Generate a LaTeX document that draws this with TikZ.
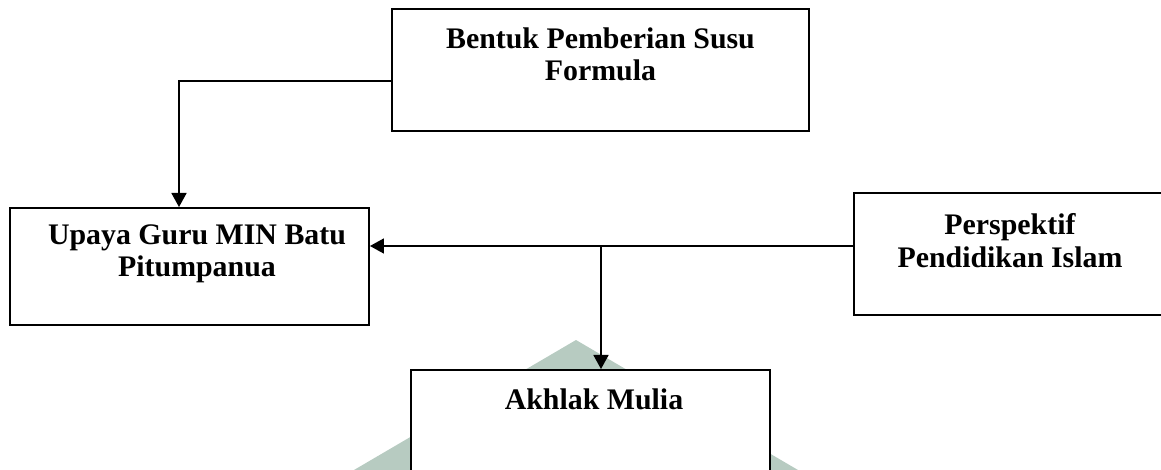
\documentclass[tikz,border=0pt]{standalone}
\usepackage{fontspec}
\setmainfont{Liberation Serif}
\usetikzlibrary{arrows.meta}

\begin{document}
\begin{tikzpicture}[x=0.02cm, y=-0.02cm,
    kotak/.style ={draw, line width=1.1pt, fill=white, inner sep=0pt},
    judul/.style ={font=\bfseries\fontsize{17}{18.7}\selectfont, align=center, inner sep=0pt, anchor=north},
    panah/.style ={line width=1.1pt, -{Triangle[length=8pt, width=8.5pt]}}]
   \useasboundingbox (0,0) rectangle (1161,470);
   % watermark
   \fill[fill={rgb,255:red,183;green,203;blue,193}] (576,340) -- (798,470) -- (354,470) -- cycle;
   % kotak
   \node[kotak, minimum width=8.34cm, minimum height=2.44cm] (bentuk) at (600.5,70) {};
   \node[kotak, minimum width=7.18cm, minimum height=2.34cm] (upaya) at (189.5,266.5) {};
   \node[kotak, minimum width=6.24cm, minimum height=2.44cm] (perspektif) at (1010,254) {};
   \node[kotak, minimum width=7.18cm, minimum height=2.6cm] (akhlak) at (590.5,435) {};
   % teks
   \node[judul] (bentuk-t) at (600.5,27) {Bentuk Pemberian Susu\\Formula};
   \node[judul] (upaya-t) at (197,224) {Upaya Guru MIN Batu\\Pitumpanua};
   \node[judul] (perspektif-t) at (1010,213) {Perspektif\\Pendidikan Islam};
   \node[judul] (akhlak-t) at (594,388) {Akhlak Mulia};
   % panah
   \coordinate (belok) at (179,81);
   \coordinate (cabang) at (601,246);
   \draw[panah] (bentuk.west |- belok) -- (belok) -- (belok |- upaya.north);
   \draw[panah] (perspektif.west |- cabang) -- (upaya.east |- cabang);
   \draw[panah] (cabang) -- (cabang |- akhlak.north);
\end{tikzpicture}
\end{document}
